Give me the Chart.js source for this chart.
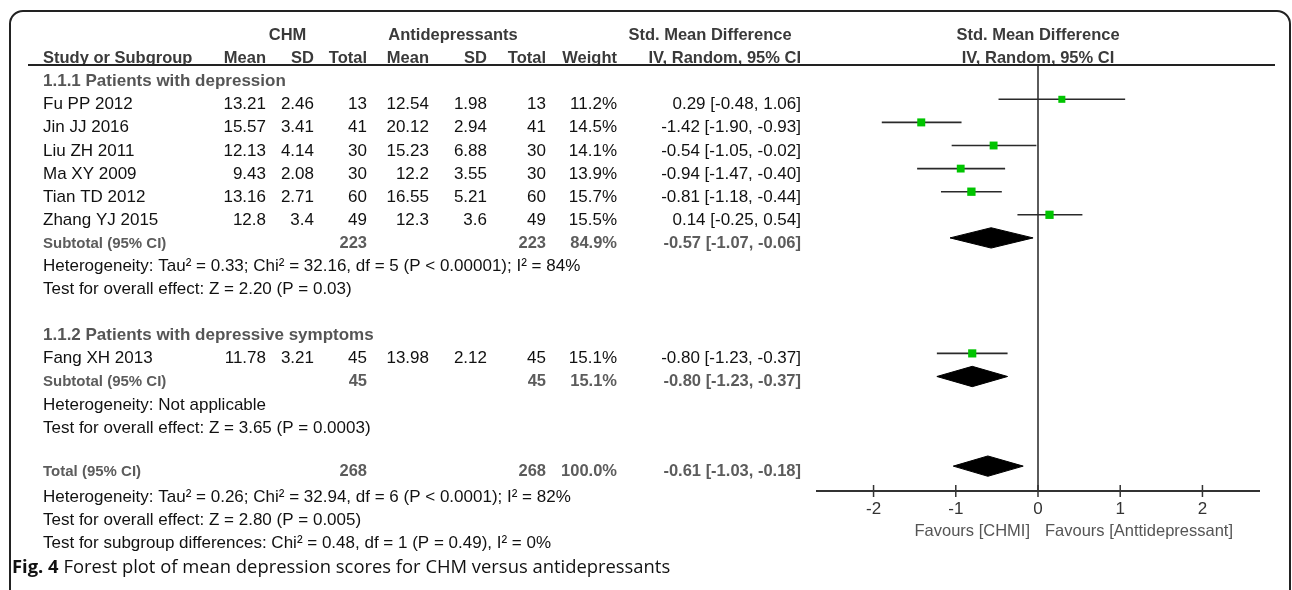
<!DOCTYPE html>
<html><head><meta charset="utf-8">
<script src="https://cdn.jsdelivr.net/npm/chart.js@4.4.1/dist/chart.umd.min.js"></script>
<style>html,body{margin:0;padding:0;background:#fff;}#wrap{width:1292px;height:590px;}</style>
</head><body><div id="wrap"><canvas id="c" width="1292" height="590"></canvas></div>
<script>
// ---------- data ----------
const studies   = ['Fu PP 2012','Jin JJ 2016','Liu ZH 2011','Ma XY 2009','Tian TD 2012','Zhang YJ 2015','Fang XH 2013'];
const studyGroup= [0,0,0,0,0,0,1];
const chmMean   = [13.21,15.57,12.13,9.43,13.16,12.8,11.78];
const chmSD     = [2.46,3.41,4.14,2.08,2.71,3.4,3.21];
const chmN      = [13,41,30,30,60,49,45];
const antiMean  = [12.54,20.12,15.23,12.2,16.55,12.3,13.98];
const antiSD    = [1.98,2.94,6.88,3.55,5.21,3.6,2.12];
const antiN     = [13,41,30,30,60,49,45];
const weights   = [11.2,14.5,14.1,13.9,15.7,15.5,15.1];
const smd       = [0.29,-1.42,-0.54,-0.94,-0.81,0.14,-0.80];
const ciLow     = [-0.48,-1.90,-1.05,-1.47,-1.18,-0.25,-1.23];
const ciHigh    = [1.06,-0.93,-0.02,-0.40,-0.44,0.54,-0.37];

const groupNames = ['1.1.1 Patients with depression','1.1.2 Patients with depressive symptoms'];
const subN1      = [223,45];
const subN2      = [223,45];
const subWeight  = [84.9,15.1];
const subSMD     = [-0.57,-0.80];
const subLow     = [-1.07,-1.23];
const subHigh    = [-0.06,-0.37];
const subHet     = ['Heterogeneity: Tau\u00b2 = 0.33; Chi\u00b2 = 32.16, df = 5 (P < 0.00001); I\u00b2 = 84%','Heterogeneity: Not applicable'];
const subEffect  = ['Test for overall effect: Z = 2.20 (P = 0.03)','Test for overall effect: Z = 3.65 (P = 0.0003)'];

const totalN1 = 268, totalN2 = 268, totalWeight = 100.0;
const totalSMD = -0.61, totalLow = -1.03, totalHigh = -0.18;
const totalNotes = ['Heterogeneity: Tau\u00b2 = 0.26; Chi\u00b2 = 32.94, df = 6 (P < 0.0001); I\u00b2 = 82%',
                    'Test for overall effect: Z = 2.80 (P = 0.005)',
                    'Test for subgroup differences: Chi\u00b2 = 0.48, df = 1 (P = 0.49), I\u00b2 = 0%'];
const xTicks = [-2,-1,0,1,2];
const favLeft = 'Favours [CHMI]', favRight = 'Favours [Anttidepressant]';
const captionBold = 'Fig. 4', captionText = ' Forest plot of mean depression scores for CHM versus antidepressants';

// ---------- row layout ----------
const rows = [];
let r = 0;
const studyRow = [];
groupNames.forEach((g, gi) => {
  rows.push({kind:'heading', text:g, r:r++});
  studies.forEach((s,i)=>{ if(studyGroup[i]===gi){ studyRow[i]=r; rows.push({kind:'study', i, r:r++}); } });
  rows.push({kind:'subtotal', gi, r:r++});
  rows.push({kind:'note', text:subHet[gi], r:r++});
  rows.push({kind:'note', text:subEffect[gi], r:r++});
  r++;
});
const TOTAL_SHIFT = -0.12;
const totalRow = r + TOTAL_SHIFT;
rows.push({kind:'total', r:totalRow}); r++;
totalNotes.forEach(t=>rows.push({kind:'note', text:t, r:r++}));
const subRow = rows.filter(o=>o.kind==='subtotal').map(o=>o.r);

const f2 = v => v.toFixed(2);
const ciStr = (m,l,h) => f2(m)+' ['+f2(l)+', '+f2(h)+']';

// ---------- datasets ----------
const boxRadius = w => 2.1*Math.sqrt(w)/Math.SQRT2;
const datasets = [];
datasets.push({
  label:'SMD', order:0,
  data: studies.map((s,i)=>({x:smd[i], y:studyRow[i]})),
  pointStyle:'rect',
  pointRadius: weights.map(boxRadius),
  pointHoverRadius: weights.map(boxRadius),
  backgroundColor:'#00c400', borderWidth:0, showLine:false
});
studies.forEach((s,i)=>{
  datasets.push({
    label:s+' CI', order:2, showLine:true, borderColor:'#2a2a2a', borderWidth:1.6,
    pointRadius:0, pointHoverRadius:0, fill:false,
    data:[{x:ciLow[i], y:studyRow[i]},{x:ciHigh[i], y:studyRow[i]}]
  });
});
const DH = 0.44;
function diamond(label, m, l, h, row){
  return {label, order:1, showLine:true, fill:'shape', backgroundColor:'#000', borderColor:'#000', borderWidth:1,
    pointRadius:0, pointHoverRadius:0, tension:0,
    data:[{x:l,y:row},{x:m,y:row-DH},{x:h,y:row},{x:m,y:row+DH},{x:l,y:row}]};
}
subSMD.forEach((m,gi)=>datasets.push(diamond('Subtotal '+gi, m, subLow[gi], subHigh[gi], subRow[gi])));
datasets.push(diamond('Total', totalSMD, totalLow, totalHigh, totalRow));

// ---------- decoration / table plugin ----------
const SANS = '"Liberation Sans", Arial, sans-serif';
const col = {m1:266, sd1:314, n1:367, m2:429, sd2:487, n2:546, w:617, ci:801};
const decor = {
  id:'decor',
  beforeDraw(chart){
    const c = chart.ctx; c.save(); c.fillStyle='#fff'; c.fillRect(0,0,chart.width,chart.height); c.restore();
  },
  beforeDatasetsDraw(chart){
    const c = chart.ctx, xs = chart.scales.x, a = chart.chartArea;
    c.save(); c.strokeStyle='#333'; c.lineWidth=1.6;
    const x0 = xs.getPixelForValue(0);
    c.beginPath(); c.moveTo(x0, a.top); c.lineTo(x0, a.bottom); c.stroke(); c.restore();
  },
  afterDraw(chart){
    const c = chart.ctx, xs = chart.scales.x, ys = chart.scales.y, a = chart.chartArea;
    const ty = rr => ys.getPixelForValue(rr) + 10;
    const T = (s, x, y, align, font, color) => { c.font=font; c.fillStyle=color; c.textAlign=align; c.textBaseline='alphabetic'; c.fillText(s, x, y); };
    c.save();
    // axis
    c.strokeStyle='#333'; c.lineWidth=2;
    c.beginPath(); c.moveTo(a.left, a.bottom); c.lineTo(a.right, a.bottom); c.stroke();
    c.lineWidth=1.5;
    xTicks.forEach(v=>{ const x=xs.getPixelForValue(v); c.beginPath(); c.moveTo(x,a.bottom-6); c.lineTo(x,a.bottom+6); c.stroke();
      T(String(v), x, a.bottom+23, 'center', '17px '+SANS, '#333'); });
    const x0 = xs.getPixelForValue(0);
    T(favLeft, x0-8, a.bottom+45, 'right', '16.5px '+SANS, '#555');
    T(favRight, x0+7, a.bottom+45, 'left', '16.5px '+SANS, '#555');
    // headers
    const HB = 'bold 16.5px '+SANS, HC = '#3a3a3a';
    T('CHM', 287.5, ty(-2), 'center', HB, HC);
    T('Antidepressants', 453, ty(-2), 'center', HB, HC);
    T('Std. Mean Difference', 710, ty(-2), 'center', HB, HC);
    T('Std. Mean Difference', x0, ty(-2), 'center', HB, HC);
    T('Study or Subgroup', 43, ty(-1), 'left', HB, HC);
    [['Mean',col.m1],['SD',col.sd1],['Total',col.n1],['Mean',col.m2],['SD',col.sd2],['Total',col.n2],['Weight',col.w],['IV, Random, 95% CI',col.ci]]
      .forEach(([s,x])=>T(s, x, ty(-1), 'right', HB, HC));
    T('IV, Random, 95% CI', x0, ty(-1), 'center', HB, HC);
    // header line
    c.strokeStyle='#222'; c.lineWidth=2;
    c.beginPath(); c.moveTo(28, a.top); c.lineTo(1275, a.top); c.stroke();
    // rows
    const R = '17px '+SANS, RC = '#111', SB = 'bold 16.5px '+SANS, SC = '#5c5c5c';
    rows.forEach(o=>{
      const y = ty(o.r);
      if(o.kind==='heading') T(o.text, 43, y, 'left', 'bold 17px '+SANS, '#555');
      else if(o.kind==='note') T(o.text, 43, y, 'left', R, RC);
      else if(o.kind==='study'){
        const i=o.i;
        T(studies[i], 43, y, 'left', R, RC);
        T(String(chmMean[i]), col.m1, y, 'right', R, RC);
        T(String(chmSD[i]), col.sd1, y, 'right', R, RC);
        T(String(chmN[i]), col.n1, y, 'right', R, RC);
        T(String(antiMean[i]), col.m2, y, 'right', R, RC);
        T(String(antiSD[i]), col.sd2, y, 'right', R, RC);
        T(String(antiN[i]), col.n2, y, 'right', R, RC);
        T(weights[i].toFixed(1)+'%', col.w, y, 'right', R, RC);
        T(ciStr(smd[i],ciLow[i],ciHigh[i]), col.ci, y, 'right', R, RC);
      } else if(o.kind==='subtotal' || o.kind==='total'){
        const isT = o.kind==='total', g=o.gi;
        T(isT?'Total (95% CI)':'Subtotal (95% CI)', 43, y, 'left', 'bold 15px '+SANS, SC);
        T(String(isT?totalN1:subN1[g]), col.n1, y, 'right', SB, SC);
        T(String(isT?totalN2:subN2[g]), col.n2, y, 'right', SB, SC);
        T((isT?totalWeight:subWeight[g]).toFixed(1)+'%', col.w, y, 'right', SB, SC);
        T(isT?ciStr(totalSMD,totalLow,totalHigh):ciStr(subSMD[g],subLow[g],subHigh[g]), col.ci, y, 'right', SB, SC);
      }
    });
    // caption
    c.font = 'bold 18.4px "Open Sans", sans-serif'; c.fillStyle='#111'; c.textAlign='left';
    const wb = c.measureText(captionBold).width;
    c.fillText(captionBold, 12, 573);
    c.font = '18.4px "Open Sans", sans-serif';
    c.fillText(captionText, 12+wb, 573);
    // frame
    c.strokeStyle='#222'; c.lineWidth=2; const R0=13;
    c.beginPath(); c.moveTo(10, 590); c.lineTo(10, 11+R0); c.arcTo(10, 11, 10+R0, 11, R0);
    c.lineTo(1290-R0, 11); c.arcTo(1290, 11, 1290, 11+R0, R0); c.lineTo(1290, 590); c.stroke();
    c.restore();
  }
};

new Chart(document.getElementById('c'), {
  type:'scatter',
  data:{datasets},
  options:{
    responsive:false, animation:false, devicePixelRatio:1, events:[],
    layout:{padding:{left:816, right:32, top:65, bottom:99}},
    scales:{
      x:{type:'linear', min:-2.7, max:2.7, display:false},
      y:{type:'linear', min:-0.485, max:17.957, reverse:true, display:false}
    },
    plugins:{legend:{display:false}, tooltip:{enabled:false}}
  },
  plugins:[decor]
});
</script></body></html>
